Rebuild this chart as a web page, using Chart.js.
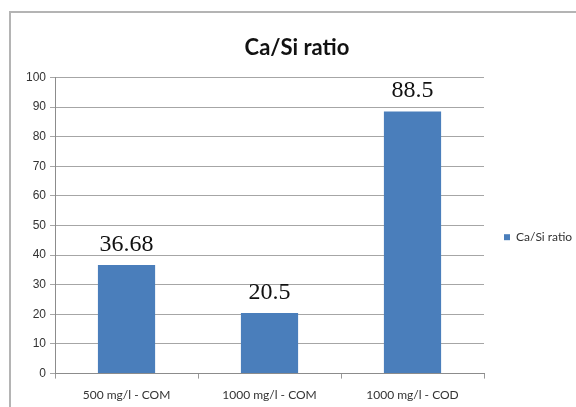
<!DOCTYPE html>
<html>
<head>
<meta charset="utf-8">
<script src="https://cdn.jsdelivr.net/npm/chart.js@4.4.0/dist/chart.umd.min.js"></script>
<style>
  html, body { margin: 0; padding: 0; background: #fff; }
  #wrap { position: relative; width: 576px; height: 407px; overflow: hidden; }
  #frame {
    position: absolute; left: 9px; top: 11px; width: 620px; height: 440px;
    border: 2px solid #b4b4b4; box-sizing: border-box;
  }
  #c { position: absolute; left: 0; top: 0; }
</style>
</head>
<body>
<div id="wrap">
  <div id="frame"></div>
  <canvas id="c" width="576" height="407"></canvas>
</div>
<script>
const categories = ['500 mg/l - COM', '1000 mg/l - COM', '1000 mg/l - COD'];
const ratioValues = [36.68, 20.5, 88.5];
const seriesName = 'Ca/Si ratio';

// value labels above each bar, serif like the original
const valueLabels = {
    id: 'valueLabels',
    afterDatasetsDraw(chart) {
        const ctx = chart.ctx;
        chart.data.datasets.forEach((dataset, i) => {
            const meta = chart.getDatasetMeta(i);
            meta.data.forEach((bar, index) => {
                ctx.save();
                ctx.fillStyle = '#111';
                ctx.font = '24px "Liberation Serif", "Times New Roman", serif';
                ctx.textAlign = 'center';
                ctx.textBaseline = 'alphabetic';
                ctx.fillText(String(dataset.data[index]), bar.x, bar.y - 14);
                ctx.restore();
            });
        });
    }
};

const ctx = document.getElementById('c').getContext('2d');
new Chart(ctx, {
    type: 'bar',
    data: {
        labels: categories,
        datasets: [{
            label: seriesName,
            data: ratioValues,
            backgroundColor: '#4a7ebb',
            borderWidth: 0,
            barPercentage: 0.8,
            categoryPercentage: 0.5
        }]
    },
    options: {
        responsive: false,
        animation: false,
        layout: { padding: { left: 22, right: 4, top: 20, bottom: -4 } },
        scales: {
            x: {
                grid: {
                    drawOnChartArea: false,
                    drawTicks: true,
                    tickLength: 5,
                    color: '#999'
                },
                border: { display: true, color: '#8c8c8c' },
                ticks: {
                    color: '#333',
                    padding: 9,
                    font: { family: 'Lato', size: 12 }
                }
            },
            y: {
                min: 0,
                max: 100,
                ticks: {
                    stepSize: 10,
                    color: '#333',
                    padding: 4,
                    font: { family: '"Liberation Sans", Arial', size: 12 }
                },
                grid: { color: '#a6a6a6', tickLength: 5 },
                border: { display: true, color: '#8c8c8c' }
            }
        },
        plugins: {
            title: {
                display: true,
                text: 'Ca/Si ratio',
                color: '#111',
                font: { family: 'Lato', size: 22, weight: 'bold' },
                padding: { top: 15, bottom: 16 }
            },
            legend: {
                position: 'right',
                maxWidth: 88,
                title: {
                    display: true,
                    text: ' ',
                    font: { size: 12 },
                    padding: { top: 0, bottom: 29 }
                },
                labels: {
                    boxWidth: 6,
                    boxHeight: 6,
                    padding: 20,
                    color: '#333',
                    font: { family: 'Lato', size: 12 }
                }
            },
            tooltip: { enabled: false }
        }
    },
    plugins: [valueLabels]
});
</script>
</body>
</html>
